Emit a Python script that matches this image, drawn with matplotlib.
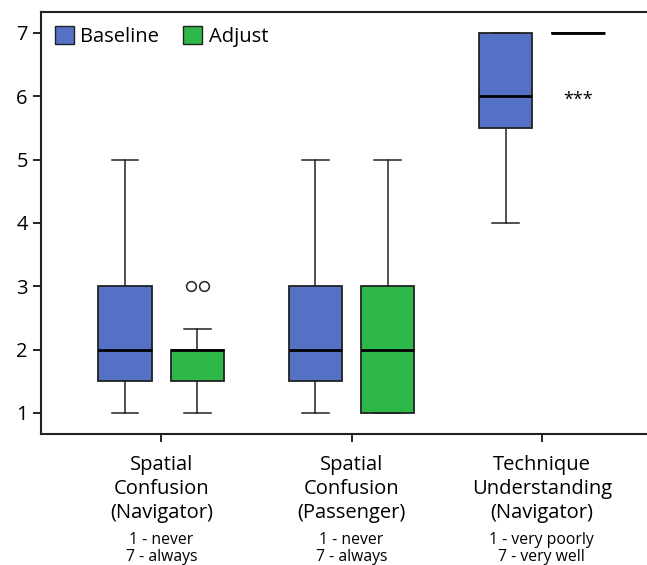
import matplotlib
matplotlib.use("Agg")
import matplotlib.pyplot as plt
from matplotlib.patches import Patch
import matplotlib.transforms as mtransforms

plt.rcParams['font.family'] = ['Open Sans', 'DejaVu Sans']

categories = ["Spatial\nConfusion\n(Navigator)", "Spatial\nConfusion\n(Passenger)", "Technique\nUnderstanding\n(Navigator)"]
scales = ["1 - never\n7 - always", "1 - never\n7 - always", "1 - very poorly\n7 - very well"]
series = ["Baseline", "Adjust"]
colors = ["#5571C5", "#2EB84A"]

# per category: (whislo, q1, med, q3, whishi)
baseline_stats = [(1, 1.5, 2, 3, 5), (1, 1.5, 2, 3, 5), (4, 5.5, 6, 7, 7)]
adjust_stats = [(1, 1.5, 2, 2, 2.33), (1, 1, 2, 3, 5), (7, 7, 7, 7, 7)]
adjust_outliers = [[3, 3], [], []]
significance = ["", "", "***"]

fig = plt.figure(figsize=(6.47, 5.65), dpi=100)
ax = fig.add_axes([0.0634, 0.2319, 0.9366, 0.747])

offset = 0.19
width = 0.28
for s_i, (name, stats, col) in enumerate(zip(series, [baseline_stats, adjust_stats], colors)):
    sign = -1 if s_i == 0 else 1
    bstats = []
    for c_i, (lo, q1, med, q3, hi) in enumerate(stats):
        d = dict(whislo=lo, q1=q1, med=med, q3=q3, whishi=hi, fliers=[])
        bstats.append(d)
    pos = [i + sign * offset for i in range(len(categories))]
    ax.bxp(bstats, positions=pos, widths=width, patch_artist=True, showfliers=False,
           capwidths=width * 0.5,
           boxprops=dict(facecolor=col, edgecolor="#222222", linewidth=1.3),
           whiskerprops=dict(color="#222222", linewidth=1.1),
           capprops=dict(color="#222222", linewidth=1.1),
           medianprops=dict(color="black", linewidth=2.0))

# outliers for Adjust series (side by side)
for c_i, outs in enumerate(adjust_outliers):
    n = len(outs)
    for k, v in enumerate(outs):
        x = c_i + offset + (k - (n - 1) / 2) * 0.068
        ax.plot(x, v, marker="o", markersize=7, markerfacecolor="white",
                markeredgecolor="#222222", markeredgewidth=1.1, linestyle="none")

for c_i, sig in enumerate(significance):
    if sig:
        ax.text(c_i + offset, 5.95, sig, ha="center", va="center", fontsize=13)

ax.set_xlim(-0.632, 2.553)
ax.set_ylim(0.668, 7.33)
ax.set_yticks(range(1, 8))
ax.set_xticks(range(len(categories)))
ax.set_xticklabels(categories, fontsize=14, linespacing=1.27)
ax.tick_params(axis="both", direction="out", length=6, width=1.2, labelsize=14.5, colors="black")
ax.tick_params(axis="x", pad=9)
ax.spines["right"].set_visible(False)
for sp in ["left", "top", "bottom"]:
    ax.spines[sp].set_linewidth(1.5)
    ax.spines[sp].set_color("#222222")

trans = mtransforms.blended_transform_factory(ax.transData, fig.transFigure)
for c_i, sc in enumerate(scales):
    ax.text(c_i, 1 - 548.5 / 565, sc, transform=trans, ha="center", va="center",
            fontsize=11.3, linespacing=1.13)

handles = [Patch(facecolor=c, edgecolor="#222222", label=s) for s, c in zip(series, colors)]
ax.legend(handles=handles, loc="upper left", ncol=2, frameon=False, fontsize=14.5,
          handlelength=0.95, handleheight=1.0, handletextpad=0.3, columnspacing=1.2,
          borderaxespad=0.3, bbox_to_anchor=(0.0, 1.0))

fig.savefig("out.png", dpi=100)
